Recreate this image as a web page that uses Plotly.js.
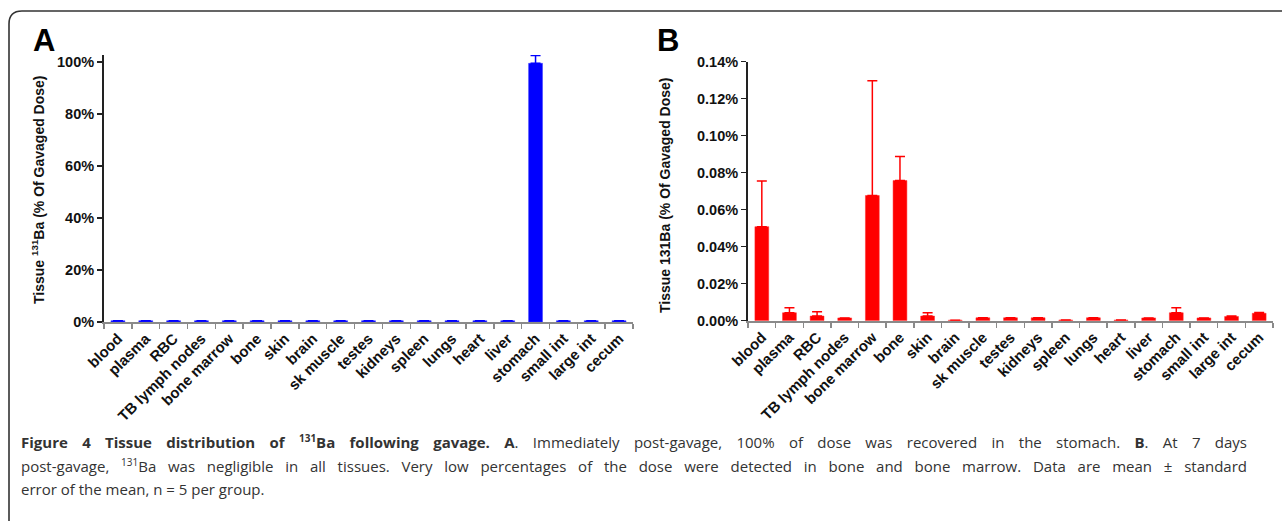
<!DOCTYPE html>
<html>
<head>
<meta charset="utf-8">
<script src="https://cdn.plot.ly/plotly-3.0.1.min.js"></script>
<style>
html,body{margin:0;padding:0;background:#fff;}
#wrap{position:relative;width:1282px;height:521px;overflow:hidden;}
#chart{position:absolute;left:0;top:0;width:1282px;height:521px;}
#caption{position:absolute;left:21px;top:431px;width:1226px;font-family:"Open Sans",sans-serif;font-size:15px;color:#333;line-height:23.5px;}
#caption .j{text-align:justify;text-align-last:justify;}
#caption .l{text-align:left;}
#caption sup{font-size:10px;line-height:0;vertical-align:6px;}
</style>
</head>
<body>
<div id="wrap">
<div id="chart"></div>
<div id="caption">
<div class="j"><b>Figure 4 Tissue distribution of <sup>131</sup>Ba following gavage. A</b>. Immediately post-gavage, 100% of dose was recovered in the stomach. <b>B</b>. At 7 days</div>
<div class="j">post-gavage, <sup>131</sup>Ba was negligible in all tissues. Very low percentages of the dose were detected in bone and bone marrow. Data are mean ± standard</div>
<div class="l">error of the mean, n = 5 per group.</div>
</div>
</div>
<script>
// ---- data ----
const tissues = ["blood","plasma","RBC","TB lymph nodes","bone marrow","bone","skin","brain","sk muscle","testes","kidneys","spleen","lungs","heart","liver","stomach","small int","large int","cecum"];
// Panel A: immediately post-gavage (% of gavaged dose)
const valuesA = [0.5,0.5,0.5,0.5,0.5,0.5,0.5,0.5,0.5,0.5,0.5,0.5,0.5,0.5,0.5,99.5,0.5,0.5,0.5];
const errorsA = [0,0,0,0,0,0,0,0,0,0,0,0,0,0,0,3.0,0,0,0];
// Panel B: 7 days post-gavage (% of gavaged dose)
const valuesB = [0.0508,0.0043,0.0025,0.0015,0.0676,0.0757,0.0025,0.0003,0.0016,0.0016,0.0016,0.0004,0.0016,0.0004,0.0015,0.0043,0.0015,0.0023,0.0040];
const errorsB = [0.0247,0.0027,0.0024,0,0.0620,0.0130,0.0018,0,0,0,0,0,0,0,0,0.0027,0,0.0003,0.0004];
const yTicksA = [0,20,40,60,80,100];
const yTicksB = [0,0.02,0.04,0.06,0.08,0.10,0.12,0.14];

// ---- layout helpers (pixel -> paper) ----
const W = 1282, H = 521;
const px = x => x / W;
const py = y => 1 - y / H;

const tickFont = {family: "Liberation Sans, Arial, sans-serif", size: 15, color: "#111", weight: "bold"};
const yTickFont = {family: "Liberation Sans, Arial, sans-serif", size: 14.5, color: "#111", weight: "bold"};

const traces = [
  {type: "bar", x: tissues, y: valuesA, xaxis: "x", yaxis: "y", width: 0.5,
   marker: {color: "#0000ff", line: {color: "#3a3aff", width: 0.5}},
   error_y: {type: "data", symmetric: false, array: errorsA, arrayminus: errorsA.map(() => 0), color: "#0000ff", thickness: 1.5, width: 5},
   hoverinfo: "x+y"},
  {type: "bar", x: tissues, y: valuesB, xaxis: "x2", yaxis: "y2", width: 0.5,
   marker: {color: "#ff0000", line: {color: "#ff2a2a", width: 0.5}},
   error_y: {type: "data", symmetric: false, array: errorsB, arrayminus: errorsB.map(() => 0), color: "#ff0000", thickness: 1.5, width: 5},
   hoverinfo: "x+y"}
];

const xaxisCommon = {
  type: "category", tickangle: -45, tickfont: tickFont, showgrid: false, zeroline: false,
  showline: true, linecolor: "#8a8a8a", linewidth: 2, ticks: "outside", tickson: "boundaries",
  ticklen: 5, tickcolor: "#8a8a8a", tickwidth: 1.5, automargin: false, fixedrange: true
};
const yaxisCommon = {
  showgrid: false, zeroline: false, showline: true, linecolor: "#222", linewidth: 2,
  ticks: "outside", ticklen: 5, tickcolor: "#222", tickwidth: 1.5, tickfont: yTickFont,
  automargin: false, fixedrange: true, tickmode: "array"
};

const layout = {
  width: W, height: H, margin: {l: 0, r: 0, t: 0, b: 0},
  paper_bgcolor: "rgba(0,0,0,0)", plot_bgcolor: "rgba(0,0,0,0)", showlegend: false, bargap: 0.5,
  xaxis: Object.assign({}, xaxisCommon, {domain: [px(104), px(633)], anchor: "y"}),
  yaxis: Object.assign({}, yaxisCommon, {domain: [py(322), py(55)], range: [0, 102.7], anchor: "x",
    tickvals: yTicksA, ticktext: yTicksA.map(v => v + "%")}),
  xaxis2: Object.assign({}, xaxisCommon, {domain: [px(748), px(1273)], anchor: "y2"}),
  yaxis2: Object.assign({}, yaxisCommon, {domain: [py(320.7), py(61.5)], range: [0, 0.14], anchor: "x2",
    tickvals: yTicksB, ticktext: yTicksB.map(v => v.toFixed(2) + "%")}),
  shapes: [
    {type: "path", xref: "paper", yref: "paper",
     path: `M ${px(9)} ${py(530)} L ${px(9)} ${py(24)} Q ${px(9)} ${py(11)} ${px(22)} ${py(11)} L ${px(1300)} ${py(11)}`,
     line: {color: "#333", width: 1.6}}
  ],
  annotations: [
    {text: "<b>A</b>", x: px(31), y: py(40), xref: "paper", yref: "paper", xanchor: "left", yanchor: "middle", showarrow: false,
     font: {family: "Liberation Sans, Arial, sans-serif", size: 31, color: "#000"}},
    {text: "<b>B</b>", x: px(655), y: py(40), xref: "paper", yref: "paper", xanchor: "left", yanchor: "middle", showarrow: false,
     font: {family: "Liberation Sans, Arial, sans-serif", size: 31, color: "#000"}},
    {text: "<b>Tissue <sup>131</sup>Ba (% Of Gavaged Dose)</b>", x: px(38), y: py(190), xref: "paper", yref: "paper",
     xanchor: "center", yanchor: "middle", textangle: -90, showarrow: false,
     font: {family: "Liberation Sans, Arial, sans-serif", size: 14, color: "#111"}},
    {text: "<b>Tissue 131Ba (% Of Gavaged Dose)</b>", x: px(665), y: py(195), xref: "paper", yref: "paper",
     xanchor: "center", yanchor: "middle", textangle: -90, showarrow: false,
     font: {family: "Liberation Sans, Arial, sans-serif", size: 14, color: "#111"}}
  ]
};

Plotly.newPlot("chart", traces, layout, {displayModeBar: false, staticPlot: true});
</script>
</body>
</html>
